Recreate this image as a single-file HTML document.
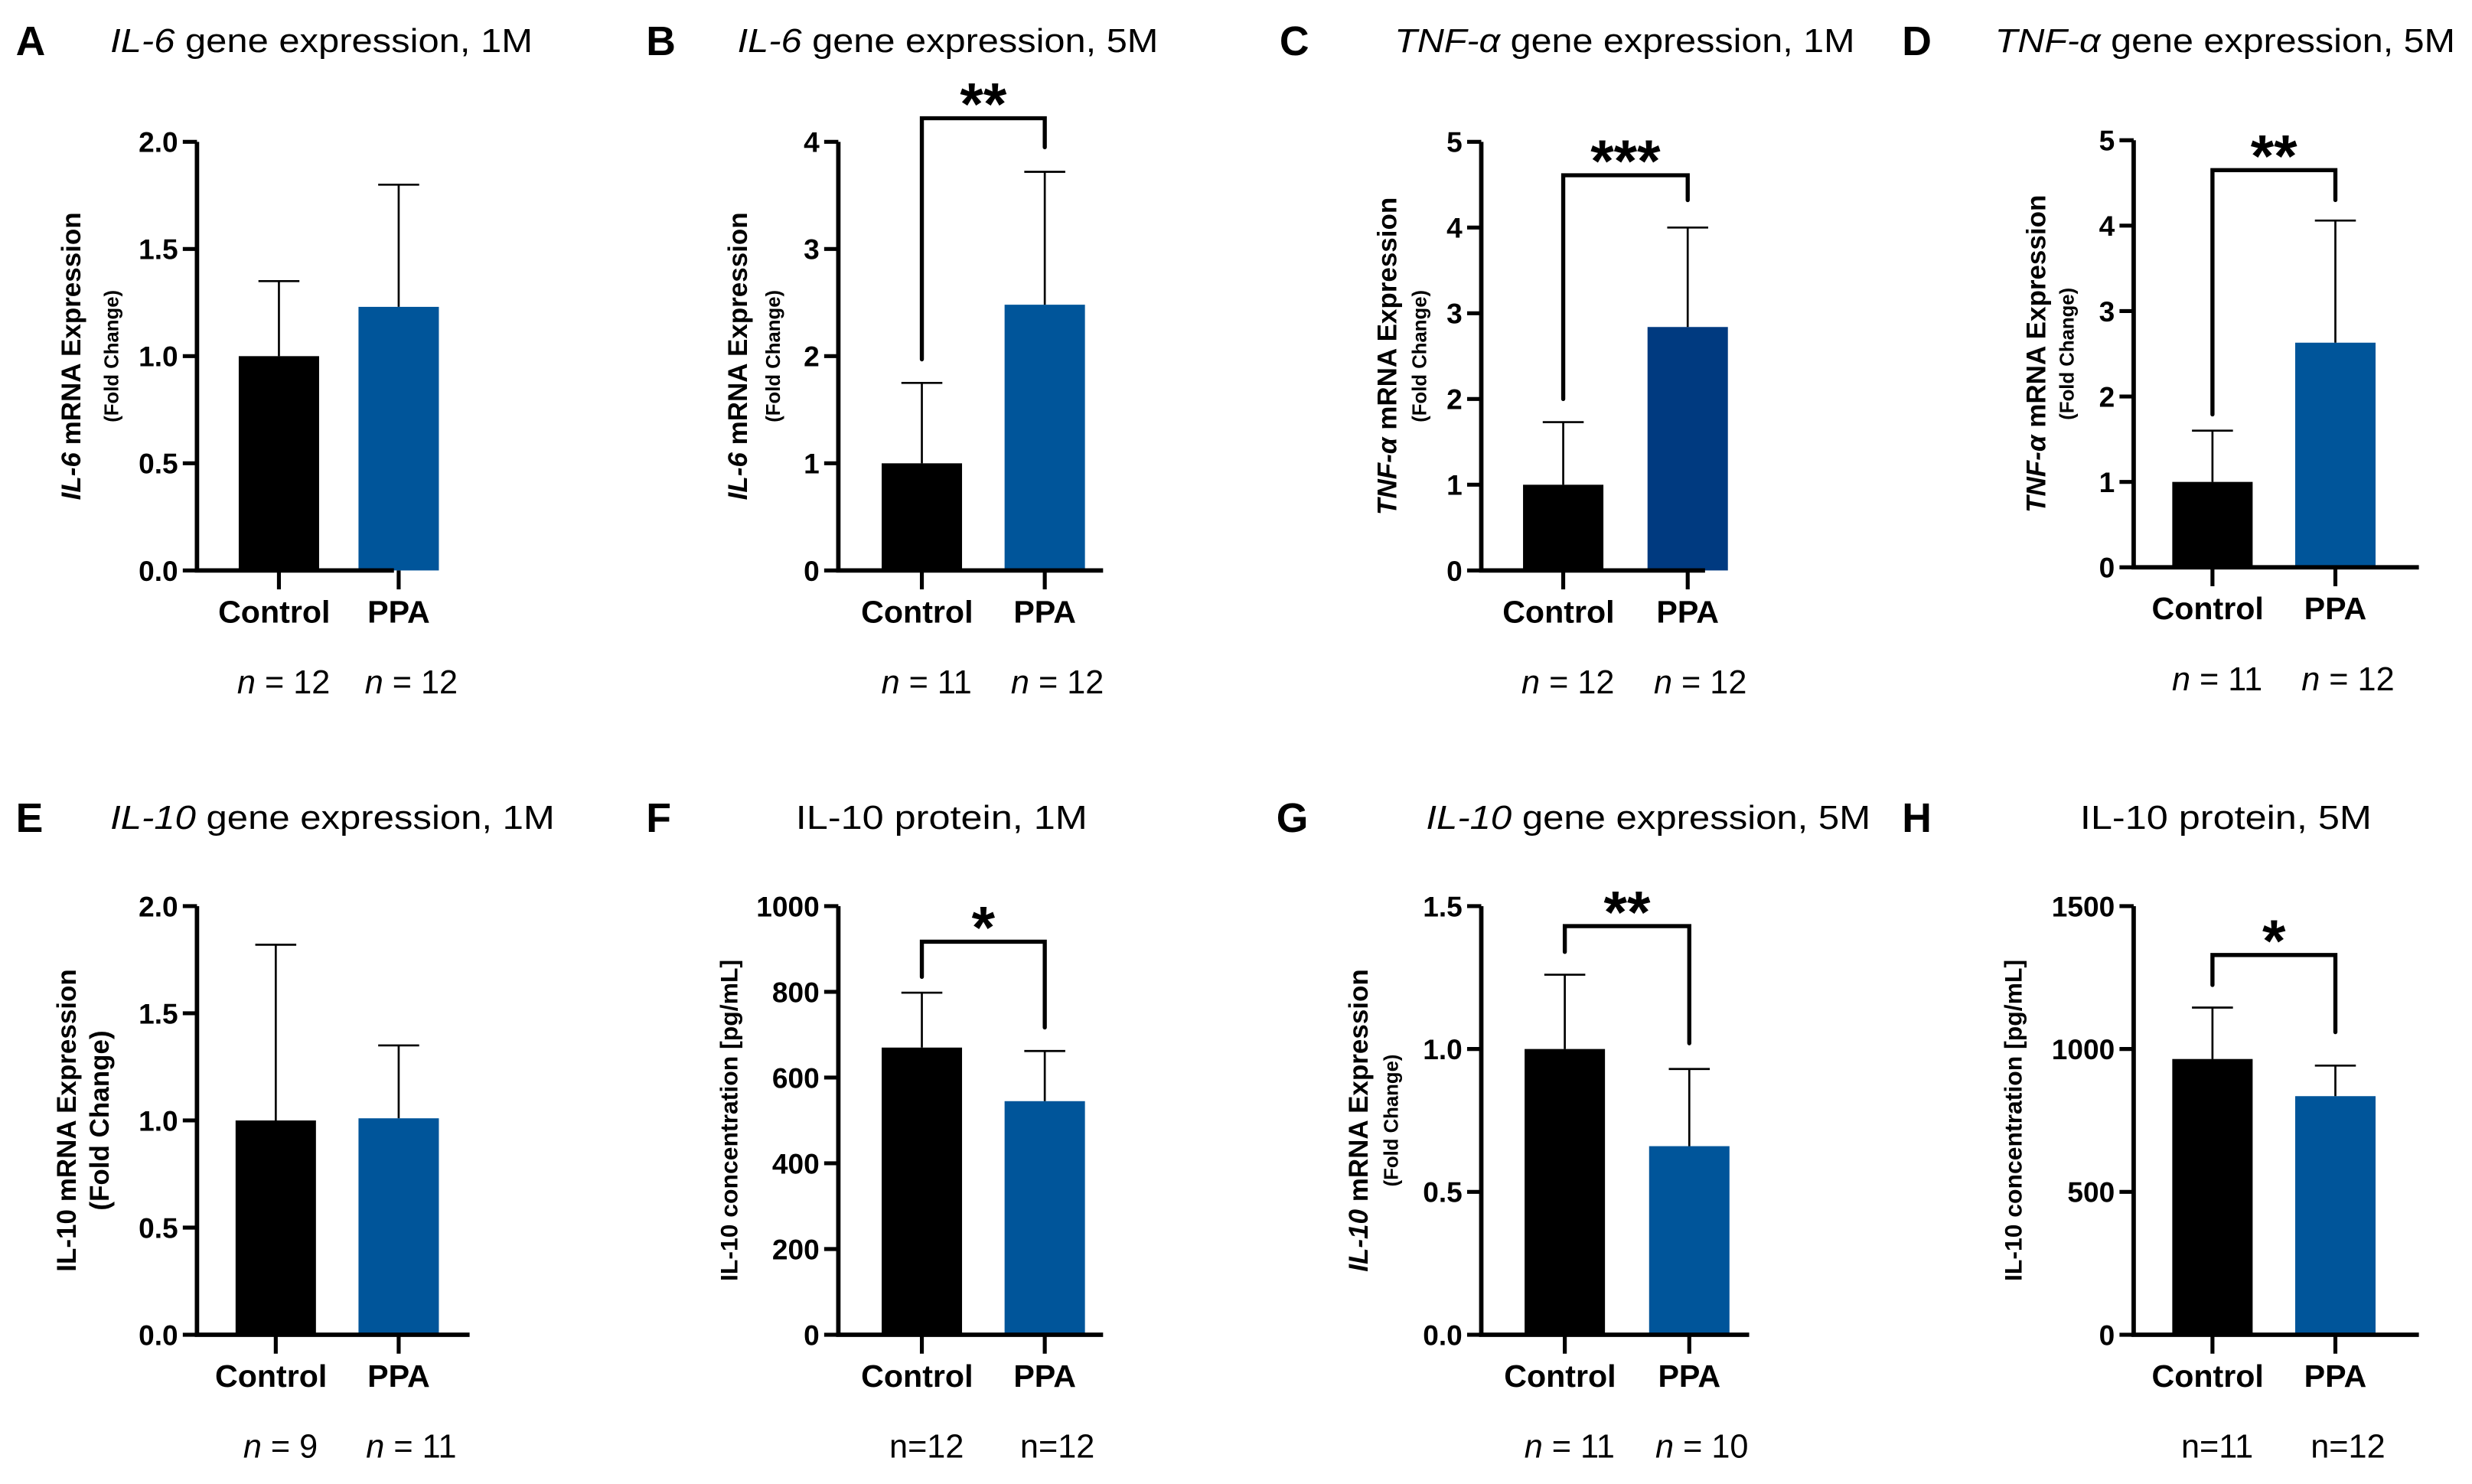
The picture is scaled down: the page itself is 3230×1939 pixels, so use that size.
<!DOCTYPE html>
<html><head><meta charset="utf-8"><style>
html,body{margin:0;padding:0;background:#fff}
svg{display:block;font-family:"Liberation Sans",sans-serif}
</style></head><body>
<svg id="fig" width="3230" height="1939" viewBox="0 0 1568.7 941.7" preserveAspectRatio="none" xmlns="http://www.w3.org/2000/svg"></svg>
<script>
const categories = ["Control","PPA"];
const panelLetters = ["A","B","C","D","E","F","G","H"];
const meansA=[1.0,1.23], errA=[1.35,1.8];
const meansB=[1.0,2.48], errB=[1.75,3.72];
const meansC=[1.0,2.84], errC=[1.73,4.0];
const meansD=[1.0,2.63], errD=[1.6,4.06];
const meansE=[1.0,1.01], errE=[1.82,1.35];
const meansF=[670,545], errF=[798,662];
const meansG=[1.0,0.66], errG=[1.26,0.93];
const meansH=[965,835], errH=[1145,942];
const ticksA=[0,0.5,1,1.5,2], tickLabA=["0.0","0.5","1.0","1.5","2.0"];
const ticksB=[0,1,2,3,4], tickLabB=["0","1","2","3","4"];
const ticksC=[0,1,2,3,4,5], tickLabC=["0","1","2","3","4","5"];
const ticksF=[0,200,400,600,800,1000], tickLabF=["0","200","400","600","800","1000"];
const ticksG=[0,0.5,1,1.5], tickLabG=["0.0","0.5","1.0","1.5"];
const ticksH=[0,500,1000,1500], tickLabH=["0","500","1000","1500"];
const nLabA=["12","12"], nLabB=["11","12"], nLabC=["12","12"], nLabD=["11","12"], nLabE=["9","11"], nLabF=["12","12"], nLabG=["11","10"], nLabH=["11","12"];
const sigB=[4.22,1.97,3.95], sigC=[4.61,2.0,4.32], sigD=[4.65,1.79,4.30], sigF=[917,835,717], sigG=[1.43,1.34,1.02], sigH=[1329,1224,1059];

const NS="http://www.w3.org/2000/svg";
const svg=document.getElementById("fig");
function mk(tag,attrs,parent){const e=document.createElementNS(NS,tag);for(const k in attrs)e.setAttribute(k,attrs[k]);(parent||svg).appendChild(e);return e;}

const panels=[
 {L:"A",lx:10,ty:25,tx:70,tw:268,gene:"IL-6",rest:" gene expression, 1M",ax:125,y0:362,yt:90,ymax:2,xend:250,c:[177,253],m:meansA,e:errA,t:ticksA,tl:tickLabA,n:nLabA,sig:null,ylab:["IL-6"," mRNA Expression"],fold:true,ylx:[45,70],col:"#00559a",nit:true},
 {L:"B",lx:410,ty:25,tx:468,tw:267,gene:"IL-6",rest:" gene expression, 5M",ax:532,y0:362,yt:90,ymax:4,xend:700,c:[585,663],m:meansB,e:errB,t:ticksB,tl:tickLabB,n:nLabB,sig:sigB,star:"**",ylab:["IL-6"," mRNA Expression"],fold:true,ylx:[468,490],col:"#00559a",nit:true},
 {L:"C",lx:812,ty:25,tx:885,tw:292,gene:"TNF-α",rest:" gene expression, 1M",ax:940,y0:362,yt:90,ymax:5,xend:1082,c:[992,1071],m:meansC,e:errC,t:ticksC,tl:tickLabC,n:nLabC,sig:sigC,star:"***",ylab:["TNF-α"," mRNA Expression"],fold:true,ylx:[880,900],col:"#003a80",nit:true},
 {L:"D",lx:1207,ty:25,tx:1266,tw:292,gene:"TNF-α",rest:" gene expression, 5M",ax:1354,y0:360,yt:89,ymax:5,xend:1535,c:[1404,1482],m:meansD,e:errD,t:ticksC,tl:tickLabC,n:nLabD,sig:sigD,star:"**",ylab:["TNF-α"," mRNA Expression"],fold:true,ylx:[1292,1311],col:"#00559a",nit:true},
 {L:"E",lx:10,ty:518,tx:70,tw:282,gene:"IL-10",rest:" gene expression, 1M",ax:125,y0:847,yt:575,ymax:2,xend:298,c:[175,253],m:meansE,e:errE,t:ticksA,tl:tickLabA,n:nLabE,sig:null,ylab:["","IL-10 mRNA Expression"],fold:"big",ylx:[42,64],col:"#00559a",nit:true},
 {L:"F",lx:410,ty:518,tx:505,tw:185,gene:"",rest:"IL-10 protein, 1M",ax:532,y0:847,yt:575,ymax:1000,xend:700,c:[585,663],m:meansF,e:errF,t:ticksF,tl:tickLabF,n:nLabF,sig:sigF,star:"*",ylab:["","IL-10 concentration [pg/mL]"],fold:false,ylx:[462],col:"#00559a",nit:false},
 {L:"G",lx:810,ty:518,tx:905,tw:282,gene:"IL-10",rest:" gene expression, 5M",ax:940,y0:847,yt:575,ymax:1.5,xend:1110,c:[993,1072],m:meansG,e:errG,t:ticksG,tl:tickLabG,n:nLabG,sig:sigG,star:"**",ylab:["IL-10"," mRNA Expression"],fold:true,ylx:[862,882],col:"#00559a",nit:true},
 {L:"H",lx:1207,ty:518,tx:1320,tw:185,gene:"",rest:"IL-10 protein, 5M",ax:1354,y0:847,yt:575,ymax:1500,xend:1535,c:[1404,1482],m:meansH,e:errH,t:ticksH,tl:tickLabH,n:nLabH,sig:sigH,star:"*",ylab:["","IL-10 concentration [pg/mL]"],fold:false,ylx:[1277],col:"#00559a",nit:false}
];

panels.forEach(p=>{
 const g=mk("g",{});
 
 
 const y=v=>p.y0-(v/p.ymax)*(p.y0-p.yt);
 const lt=mk("text",{x:p.lx,y:p.ty+10,"font-size":26,"font-weight":"bold"},g);lt.textContent=p.L;
 
 
 const tt=mk("text",{x:p.tx,y:p.ty+8,"font-size":21,textLength:p.tw,lengthAdjust:"spacingAndGlyphs"},g);
 
 
 if(p.gene){const s=mk("tspan",{"font-style":"italic"},tt);s.textContent=p.gene;}
 const s2=mk("tspan",{},tt);s2.textContent=p.rest;
 p.m.forEach((v,i)=>{
  const cx=p.c[i];
  const r=mk("rect",{x:cx-25.5,y:y(v),width:51,height:p.y0-y(v),fill:i?p.col:"#000"},g);
  
  
  const el=mk("path",{d:`M${cx} ${y(v)}V${y(p.e[i])}M${cx-13} ${y(p.e[i])}H${cx+13}`,stroke:"#000","stroke-width":1.3,fill:"none"},g);
  
  
  const tk=mk("line",{x1:cx,x2:cx,y1:p.y0,y2:p.y0+12,stroke:"#000","stroke-width":2.5},g);
  
  
  const cl=mk("text",{x:cx-(i?0:3),y:p.y0+33,"font-size":20,"font-weight":"bold","text-anchor":"middle"},g);cl.textContent=categories[i];
  
  
  const nl=mk("text",{x:cx+(i?8:3),y:p.y0+78,"font-size":21,"text-anchor":"middle"},g);
  
  
  if(p.nit){const it=mk("tspan",{"font-style":"italic"},nl);it.textContent="n";const r2=mk("tspan",{},nl);r2.textContent=" = "+p.n[i];}
  else nl.textContent="n="+p.n[i];
 });
 const ax=mk("path",{d:`M${p.ax} ${p.yt}V${p.y0}H${p.xend}`,stroke:"#000","stroke-width":2.8,fill:"none"},g);
 
 
 p.t.forEach((v,i)=>{
  const tl=mk("line",{x1:p.ax-9,x2:p.ax,y1:y(v),y2:y(v),stroke:"#000","stroke-width":2.5},g);
  
  
  const tx=mk("text",{x:p.ax-12,y:y(v)+6.5,"font-size":18,"font-weight":"bold","text-anchor":"end"},g);tx.textContent=p.tl[i];
  
  
 });
 const cy=(p.y0+p.yt)/2;
 const yl=mk("text",{x:0,y:0,"font-size":p.fold===false?15.5:17,"font-weight":"bold","text-anchor":"middle",transform:`translate(${p.ylx[0]+6},${cy}) rotate(-90)`},g);
 
 
 if(p.ylab[0]){const a=mk("tspan",{"font-style":"italic"},yl);a.textContent=p.ylab[0];}
 const b=mk("tspan",{},yl);b.textContent=p.ylab[1];
 if(p.fold){
  const fl=mk("text",{x:0,y:0,"font-size":p.fold==="big"?17:12.5,"font-weight":"bold","text-anchor":"middle",transform:`translate(${p.ylx[1]+5},${cy}) rotate(-90)`},g);fl.textContent="(Fold Change)";
  
  
 }
 if(p.sig){
  const [top,l,r]=p.sig;
  const br=mk("path",{d:`M${p.c[0]} ${y(l)}V${y(top)}H${p.c[1]}V${y(r)}`,stroke:"#000","stroke-width":2.6,fill:"none","stroke-linecap":"round"},g);
  
  
  const st=mk("text",{x:(p.c[0]+p.c[1])/2,y:y(top)+4,"font-size":38,"font-weight":"bold","text-anchor":"middle"},g);st.textContent=p.star;
  
  
 }
});
</script>
</body></html>
